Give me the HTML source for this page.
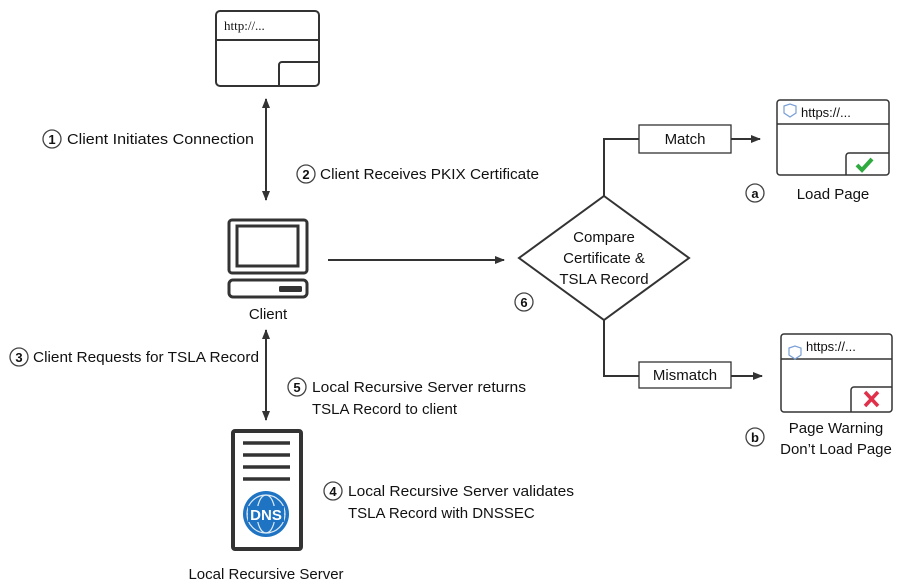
<!DOCTYPE html>
<html><head><meta charset="utf-8"><style>
html,body{margin:0;padding:0;background:#fff;width:904px;height:587px;overflow:hidden}
svg text{font-family:"Liberation Sans",sans-serif;font-size:15px;fill:#111}
.c{fill:#fff;stroke:#444;stroke-width:1.3}
.n{font-size:13px;font-weight:bold;text-anchor:middle}
</style></head><body>
<svg width="904" height="587" viewBox="0 0 904 587" xmlns="http://www.w3.org/2000/svg">
<defs>
<marker id="a" markerWidth="10" markerHeight="8" refX="9" refY="4" orient="auto-start-reverse" markerUnits="userSpaceOnUse">
<path d="M0,0 L10,4 L0,8 z" fill="#333"/></marker>
</defs>
<g fill="none" stroke="#333" stroke-width="2">
<rect x="216" y="11" width="103" height="75" rx="4"/>
<line x1="216" y1="40" x2="319" y2="40"/>
<path d="M279,86 V65 a3,3 0 0 1 3,-3 H319"/>
</g>
<text x="224" y="30" style="font-family:'Liberation Serif',serif;font-size:13px">http://...</text>
<g stroke="#333" stroke-width="2" fill="none">
<line x1="266" y1="99" x2="266" y2="200" marker-start="url(#a)" marker-end="url(#a)"/>
<line x1="266" y1="330" x2="266" y2="420" marker-start="url(#a)" marker-end="url(#a)"/>
<line x1="328" y1="260" x2="504" y2="260" marker-end="url(#a)"/>
<polyline points="604,196 604,139 639,139"/>
<line x1="731" y1="139" x2="760" y2="139" marker-end="url(#a)"/>
<polyline points="604,320 604,376 639,376"/>
<line x1="731" y1="376" x2="762" y2="376" marker-end="url(#a)"/>
</g>
<g fill="none" stroke="#333" stroke-width="3">
<rect x="229" y="220" width="78" height="53" rx="3"/>
<rect x="237" y="226" width="61" height="40"/>
<rect x="229" y="280" width="78" height="17" rx="4"/>
</g>
<rect x="279" y="286" width="23" height="6" rx="1.5" fill="#333"/>
<text x="268" y="319" text-anchor="middle">Client</text>
<rect x="233" y="431" width="68" height="118" rx="2" fill="none" stroke="#333" stroke-width="4"/>
<g stroke="#333" stroke-width="3.5">
<line x1="243" y1="443" x2="290" y2="443"/><line x1="243" y1="455" x2="290" y2="455"/>
<line x1="243" y1="467" x2="290" y2="467"/><line x1="243" y1="479" x2="290" y2="479"/>
</g>
<circle cx="266" cy="514" r="23" fill="#1e73c2"/>
<g fill="none" stroke="#fff" stroke-width="1.2" opacity=".85">
<circle cx="266" cy="514" r="19"/>
<ellipse cx="266" cy="514" rx="9" ry="19"/>
<line x1="247" y1="514" x2="285" y2="514"/>
</g>
<rect x="248" y="506" width="36" height="16" fill="#1e73c2"/>
<text x="266" y="520" text-anchor="middle" style="fill:#fff;font-weight:bold;font-size:15px">DNS</text>
<text x="266" y="579" text-anchor="middle">Local Recursive Server</text>
<polygon points="604,196 689,258 604,320 519,258" fill="#fff" stroke="#333" stroke-width="2"/>
<text x="604" y="242" text-anchor="middle">Compare</text>
<text x="604" y="263" text-anchor="middle">Certificate &amp;</text>
<text x="604" y="284" text-anchor="middle">TSLA Record</text>
<rect x="639" y="125" width="92" height="28" fill="#fff" stroke="#333" stroke-width="1.3"/>
<text x="685" y="144" text-anchor="middle">Match</text>
<rect x="639" y="362" width="92" height="26" fill="#fff" stroke="#333" stroke-width="1.3"/>
<text x="685" y="380" text-anchor="middle">Mismatch</text>
<g fill="none" stroke="#333" stroke-width="1.5">
<rect x="777" y="100" width="112" height="75" rx="3"/>
<line x1="777" y1="124" x2="889" y2="124"/>
<path d="M846,175 V156 a3,3 0 0 1 3,-3 H889"/>
<rect x="781" y="334" width="111" height="78" rx="3"/>
<line x1="781" y1="359" x2="892" y2="359"/>
<path d="M851,412 V390 a3,3 0 0 1 3,-3 H892"/>
</g>
<g fill="none" stroke="#7a9fd6" stroke-width="1.2">
<path d="M784,106 l6,-2 6,2 v7 l-6,4 -6,-4z"/>
<path d="M789,348 l6,-2 6,2 v7 l-6,4 -6,-4z"/>
</g>
<text x="801" y="117" style="font-size:13px">https://...</text>
<text x="806" y="351" style="font-size:13px">https://...</text>
<path d="M857,165 l5,5 10,-11" fill="none" stroke="#2eaa3e" stroke-width="4"/>
<g stroke="#e0304a" stroke-width="3.5"><line x1="865" y1="392" x2="878" y2="406"/><line x1="878" y1="392" x2="865" y2="406"/></g>
<text x="833" y="199" text-anchor="middle">Load Page</text>
<text x="836" y="433" text-anchor="middle">Page Warning</text>
<text x="836" y="454" text-anchor="middle">Don’t Load Page</text>
<g>
<circle class="c" cx="52" cy="139" r="9"/><text class="n" x="52" y="144">1</text>
<circle class="c" cx="306" cy="174" r="9"/><text class="n" x="306" y="179">2</text>
<circle class="c" cx="19" cy="357" r="9"/><text class="n" x="19" y="362">3</text>
<circle class="c" cx="297" cy="387" r="9"/><text class="n" x="297" y="392">5</text>
<circle class="c" cx="333" cy="491" r="9"/><text class="n" x="333" y="496">4</text>
<circle class="c" cx="524" cy="302" r="9"/><text class="n" x="524" y="307">6</text>
<circle class="c" cx="755" cy="193" r="9"/><text class="n" x="755" y="198">a</text>
<circle class="c" cx="755" cy="437" r="9"/><text class="n" x="755" y="442">b</text>
</g>
<text x="67" y="144" textLength="187" lengthAdjust="spacingAndGlyphs">Client Initiates Connection</text>
<text x="320" y="179" textLength="219" lengthAdjust="spacingAndGlyphs">Client Receives PKIX Certificate</text>
<text x="33" y="362" textLength="226" lengthAdjust="spacingAndGlyphs">Client Requests for TSLA Record</text>
<text x="312" y="392" textLength="214" lengthAdjust="spacingAndGlyphs">Local Recursive Server returns</text>
<text x="312" y="414">TSLA Record to client</text>
<text x="348" y="496" textLength="226" lengthAdjust="spacingAndGlyphs">Local Recursive Server validates</text>
<text x="348" y="518">TSLA Record with DNSSEC</text>
</svg>
</body></html>
